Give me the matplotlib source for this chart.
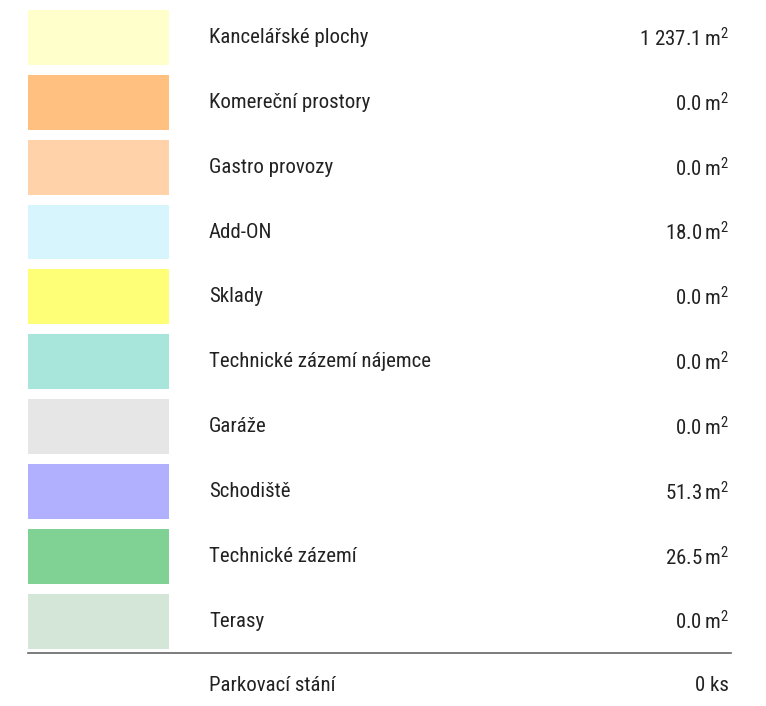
import matplotlib
matplotlib.use("Agg")
import matplotlib.pyplot as plt

categories = [
    "Kancelářské plochy",
    "Komereční prostory",
    "Gastro provozy",
    "Add-ON",
    "Sklady",
    "Technické zázemí nájemce",
    "Garáže",
    "Schodiště",
    "Technické zázemí",
    "Terasy",
]
areas = [1237.1, 0.0, 0.0, 18.0, 0.0, 0.0, 0.0, 51.3, 26.5, 0.0]
colors = ["#FFFFCC", "#FFC080", "#FFD2AA", "#D6F5FC", "#FFFF77",
          "#A8E6DC", "#E6E6E6", "#B0B0FF", "#80D294", "#D4E6D8"]
parking_label = "Parkovací stání"
parking_count = 0

plt.rcParams["font.family"] = ["Roboto Condensed", "DejaVu Sans"]
plt.rcParams["mathtext.default"] = "regular"

fig = plt.figure(figsize=(7.66, 7.06), dpi=100)
ax = fig.add_axes([0, 0, 1, 1])
ax.set_xlim(0, 766)
ax.set_ylim(10.31, -0.578)
ax.axis("off")

rows = list(range(len(categories)))
ax.barh(rows, 141, left=28, height=0.848, color=colors)


def fmt(v):
    return f"{v:,.1f}".replace(",", " ")


fs = 15
txt = "#222222"
for i, (name, val) in enumerate(zip(categories, areas)):
    ax.text(209, i, name, ha="left", va="center", fontsize=fs, color=txt)
    ax.text(729, i + 0.02, fmt(val) + r"$\,$m$^{2}$", ha="right", va="center",
            fontsize=fs, color=txt)

ax.plot([28, 731], [9.5, 9.5], color="#666666", lw=1.2)
n = len(categories)
ax.text(209, n, parking_label, ha="left", va="center", fontsize=fs, color=txt)
ax.text(729, n, f"{parking_count} ks", ha="right", va="center", fontsize=fs,
        color=txt)

fig.savefig("out.png", dpi=100)
